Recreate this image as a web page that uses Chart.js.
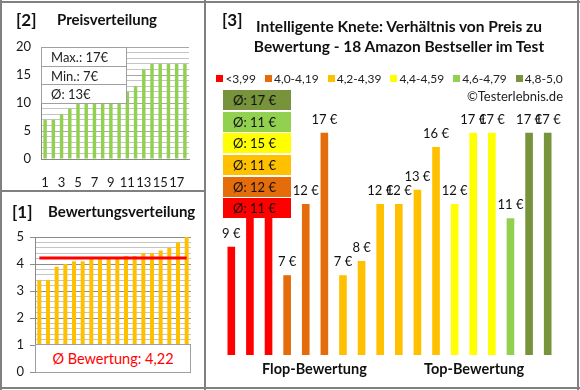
<!DOCTYPE html>
<html><head><meta charset="utf-8">
<script src="https://cdn.jsdelivr.net/npm/chart.js@4.4.1/dist/chart.umd.min.js"></script>
<style>
html,body{margin:0;padding:0;background:#fff;}
body{width:580px;height:390px;position:relative;overflow:hidden;font-family:Lato,'Open Sans',sans-serif;color:#111;}
.ln{position:absolute;background:#808080;}
.cv{position:absolute;}
.t{position:absolute;white-space:nowrap;line-height:1;}
.b{font-weight:bold;}
.box{position:absolute;background:#fff;border:1px solid #a0a0a0;box-sizing:border-box;}
.row{position:absolute;left:0;right:0;font-size:13px;padding-left:9px;box-sizing:border-box;display:flex;align-items:center;color:#222;}
.avg{position:absolute;left:223px;width:68px;height:20px;font-size:13px;display:flex;align-items:center;padding-left:10px;box-sizing:border-box;color:#111;}
#legend{position:absolute;left:208px;width:372px;top:71px;height:14px;display:flex;justify-content:center;align-items:center;font-size:12px;color:#222;white-space:nowrap;}
#legend span.sq{display:inline-block;width:7px;height:7px;margin-right:2px;}
#legend span.it{margin-right:9px;display:flex;align-items:center;white-space:nowrap;flex:none;}
</style></head>
<body>
<canvas id="c2" class="cv" style="left:2px;top:3px" width="202" height="187"></canvas>
<canvas id="c1" class="cv" style="left:2px;top:193px" width="202" height="194"></canvas>
<canvas id="c3" class="cv" style="left:206px;top:3px" width="371" height="384"></canvas>

<!-- frame -->
<div class="ln" style="left:0;top:1px;width:580px;height:2px"></div>
<div class="ln" style="left:0;top:0;width:2px;height:390px"></div>
<div class="ln" style="left:577px;top:0;width:2px;height:390px"></div>
<div class="ln" style="left:0;top:387px;width:580px;height:2px"></div>
<div class="ln" style="left:204px;top:0;width:2px;height:390px"></div>
<div class="ln" style="left:0;top:190px;width:205px;height:2px"></div>

<!-- titles -->
<div class="t b" style="left:16px;top:11px;font-size:17px">[2]</div>
<div class="t b" style="left:57px;top:12px;font-size:15px">Preisverteilung</div>
<div class="t b" style="left:12px;top:203px;font-size:17px">[1]</div>
<div class="t b" style="left:48px;top:204px;font-size:15px">Bewertungsverteilung</div>
<div class="t b" style="left:222px;top:11px;font-size:17px">[3]</div>
<div class="t b" style="left:250px;width:298px;top:16px;font-size:15.5px;line-height:20px;text-align:center">Intelligente Knete: Verhältnis von Preis zu<br>Bewertung - 18 Amazon Bestseller im Test</div>
<div id="legend"></div>
<div class="t" style="right:17px;top:90px;font-size:13px;color:#222">©Testerlebnis.de</div>
<div class="t b" id="flop" style="left:262px;width:100px;top:362px;font-size:14.5px;text-align:center">Flop-Bewertung</div>
<div class="t b" id="top" style="left:424px;width:100px;top:362px;font-size:14.5px;text-align:center">Top-Bewertung</div>

<!-- price box panel 2 -->
<div class="box" style="left:41px;top:47px;width:86px;height:57px">
  <div class="row" id="pmax" style="top:0;height:19px;border-bottom:1px solid #a0a0a0"></div>
  <div class="row" id="pmin" style="top:19px;height:18px;border-bottom:1px solid #a0a0a0"></div>
  <div class="row" id="pavg" style="top:37px;height:18px"></div>
</div>
<!-- rating box panel 1 -->
<div class="box" id="rbox" style="left:35px;top:344px;width:156px;height:29px;display:flex;align-items:center;justify-content:center;color:#ff0000;font-size:14.5px"></div>

<div id="avgs"></div>

<script>
// ---- data ----
const productRatings = [3.4,3.4,3.9,4.0,4.1,4.1,4.2,4.2,4.2,4.2,4.3,4.3,4.4,4.4,4.5,4.6,4.8,5.0];
const productPrices  = [9,12,12,7,12,17,7,8,12,12,13,16,12,17,17,11,17,17];
const priceDistribution = [7,7,8,9,11,12,12,12,12,12,12,13,16,17,17,17,17,17];
const productIndex = ['1','2','3','4','5','6','7','8','9','10','11','12','13','14','15','16','17','18'];
const ratingClassLabels = ['<3,99','4,0-4,19','4,2-4,39','4,4-4,59','4,6-4,79','4,8-5,0'];
const ratingClassLimits = [4.0,4.2,4.4,4.6,4.8];
const ratingClassColors = ['#FF0000','#E46C0A','#FFC000','#FFFF00','#92D050','#77933C'];
const priceTicks = [0,5,10,15,20];
const ratingTicks = [0,1,2,3,4,5];

// ---- derived ----
const cls = r => { let i=0; while(i<ratingClassLimits.length && r>=ratingClassLimits[i]-1e-9) i++; return i; };
const barColors = productRatings.map(r => ratingClassColors[cls(r)]);
const avgRating = productRatings.reduce((a,b)=>a+b,0)/productRatings.length;
const avgPrice = priceDistribution.reduce((a,b)=>a+b,0)/priceDistribution.length;

document.getElementById('pmax').textContent = 'Max.: ' + Math.max(...priceDistribution) + '€';
document.getElementById('pmin').textContent = 'Min.: ' + Math.min(...priceDistribution) + '€';
document.getElementById('pavg').textContent = 'Ø: ' + Math.round(avgPrice) + '€';
document.getElementById('rbox').textContent = 'Ø Bewertung: ' + avgRating.toFixed(2).replace('.',',');

// legend
const lg = document.getElementById('legend');
ratingClassLabels.forEach((l,i)=>{
  const it=document.createElement('span'); it.className='it';
  const sq=document.createElement('span'); sq.className='sq'; sq.style.background=ratingClassColors[i];
  it.appendChild(sq); it.appendChild(document.createTextNode(l)); lg.appendChild(it);
});
// average boxes per class (top: best class)
const avgTops = [90,112,133,155,177,198];
const avgDiv = document.getElementById('avgs');
for (let k=0;k<6;k++){
  const ci = 5-k;
  const vals = productPrices.filter((p,i)=>cls(productRatings[i])===ci);
  const d=document.createElement('div'); d.className='avg';
  d.style.top=avgTops[k]+'px'; d.style.background=ratingClassColors[ci];
  d.textContent='Ø: '+Math.round(vals.reduce((a,b)=>a+b,0)/vals.length)+' €';
  avgDiv.appendChild(d);
}

Chart.defaults.font.family = "Lato, 'Open Sans', sans-serif";
Chart.defaults.color = '#1a1a1a';
const isInt = v => Math.abs(v-Math.round(v))<1e-6;

// ---- panel 2: Preisverteilung ----
new Chart(document.getElementById('c2'), {
  type:'bar',
  data:{labels:productIndex, datasets:[{data:priceDistribution, backgroundColor:'#92D050', barPercentage:0.42, categoryPercentage:1}]},
  options:{
    responsive:false, animation:false, devicePixelRatio:1,
    layout:{padding:{left:0,top:44,right:15,bottom:0}},
    plugins:{legend:{display:false}, tooltip:{enabled:false}},
    scales:{
      x:{grid:{display:false, drawTicks:false}, border:{color:'#888'},
         ticks:{autoSkip:false, maxRotation:0, padding:16, font:{size:13}, callback:(v,i)=> i%2===0 ? productIndex[i] : ''},
         afterFit:s=>{s.height=31;}},
      y:{min:0,max:20, border:{color:'#888'},
         grid:{drawTicks:false, color:c=> (c.tick && c.tick.value%5===0)?'#a6a6a6':'#c4c4c4'},
         ticks:{stepSize:1, autoSkip:false, padding:10, font:{size:13}, callback:v=> priceTicks.includes(v)? String(v):''},
         afterFit:s=>{s.width=39;}}
    }
  }
});

// ---- panel 1: Bewertungsverteilung ----
new Chart(document.getElementById('c1'), {
  data:{labels:productIndex, datasets:[
    {type:'line', data:productRatings.map(()=>avgRating), borderColor:'#FF0000', borderWidth:3, pointRadius:0, order:0},
    {type:'bar', data:productRatings, backgroundColor:'#FFC000', barPercentage:0.46, categoryPercentage:1, order:1}
  ]},
  options:{
    responsive:false, animation:false, devicePixelRatio:1,
    layout:{padding:{left:0,top:44,right:13,bottom:15}},
    plugins:{legend:{display:false}, tooltip:{enabled:false}},
    scales:{
      x:{display:false},
      y:{min:0,max:5, border:{color:'#888'},
         grid:{tickLength:5, color:c=> (c.tick && isInt(c.tick.value))?'#8c8c8c':'#c4c4c4',
               tickColor:c=> (c.tick && isInt(c.tick.value))?'#8c8c8c':'rgba(0,0,0,0)'},
         ticks:{stepSize:0.2, autoSkip:false, padding:6, font:{size:13}, callback:v=> ratingTicks.some(t=>Math.abs(t-v)<1e-6)? String(Math.round(v)):''},
         afterFit:s=>{s.width=33;}}
    }
  }
});

// ---- panel 3: Preis vs Bewertung ----
const valueLabels = {
  id:'valueLabels',
  afterDatasetsDraw(chart){
    const ctx=chart.ctx; const meta=chart.getDatasetMeta(0);
    ctx.save(); ctx.font="13px Lato, 'Open Sans', sans-serif"; ctx.fillStyle='#111';
    ctx.textAlign='center'; ctx.textBaseline='middle';
    meta.data.forEach((el,i)=>{ ctx.fillText(productPrices[i]+' €', el.x, el.y-13); });
    ctx.restore();
  }
};
new Chart(document.getElementById('c3'), {
  type:'bar',
  data:{labels:productIndex, datasets:[{data:productPrices, backgroundColor:barColors, barPercentage:0.41, categoryPercentage:1}]},
  options:{
    responsive:false, animation:false, devicePixelRatio:1,
    layout:{padding:{left:16,top:87,right:20,bottom:32}},
    plugins:{legend:{display:false}, tooltip:{enabled:false}},
    scales:{ x:{display:false}, y:{display:false, min:1.4, max:20} }
  },
  plugins:[valueLabels]
});
</script>
</body></html>
